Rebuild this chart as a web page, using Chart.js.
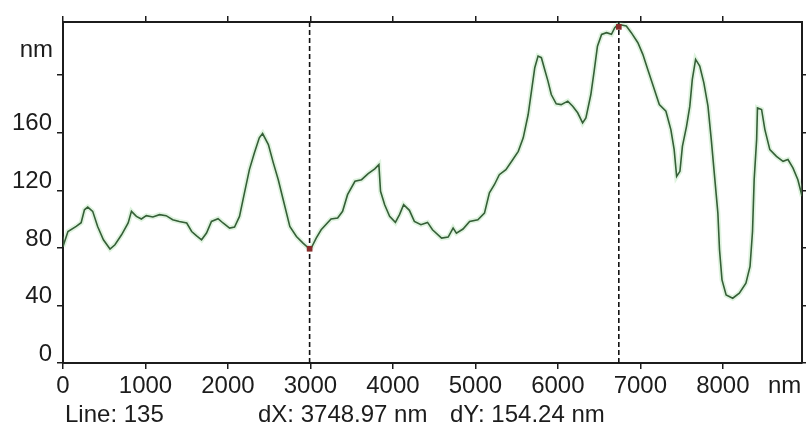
<!DOCTYPE html>
<html>
<head>
<meta charset="utf-8">
<script src="https://cdn.jsdelivr.net/npm/chart.js@4/dist/chart.umd.min.js"></script>
<style>
  html, body { margin: 0; padding: 0; background: #fff; }
  canvas { display: block; }
</style>
</head>
<body>
<canvas id="profile" width="806" height="431"></canvas>
<script>
// height profile along scan line (x in nm, z in nm)
const profileX = [
  0, 60, 160, 220, 260, 300, 360, 420, 490, 570,
  630, 710, 790, 830, 890, 950, 1010, 1090, 1170, 1250,
  1330, 1410, 1500, 1560, 1620, 1680, 1740, 1800, 1880, 1940,
  2020, 2080, 2140, 2200, 2260, 2320, 2380, 2420, 2490, 2550,
  2610, 2670, 2750, 2830, 2910, 2990, 3010, 3070, 3130, 3250,
  3330, 3390, 3450, 3540, 3620, 3700, 3780, 3830, 3850, 3900,
  3960, 4030, 4080, 4130, 4200, 4260, 4340, 4420, 4480, 4590,
  4670, 4730, 4770, 4850, 4930, 5030, 5110, 5170, 5230, 5290,
  5370, 5440, 5520, 5580, 5640, 5680, 5720, 5760, 5800, 5840,
  5880, 5920, 5980, 6040, 6120, 6180, 6240, 6300, 6340, 6400,
  6440, 6480, 6530, 6590, 6650, 6690, 6730, 6830, 6890, 6970,
  7030, 7090, 7170, 7230, 7310, 7370, 7410, 7440, 7480, 7510,
  7560, 7600, 7630, 7670, 7720, 7770, 7820, 7860, 7900, 7940,
  7960, 7990, 8040, 8120, 8200, 8280, 8330, 8360, 8380, 8410,
  8420, 8470, 8510, 8570, 8650, 8730, 8790, 8850, 8910, 8960,
];
const profileY = [
  81, 91.4, 94.9, 97.5, 106.5, 108.4, 105.4, 94.9, 85.6, 79.2,
  82.2, 89.1, 97.3, 105.4, 101.9, 100.1, 102.4, 101.5, 103.1, 102.4,
  99.6, 98.4, 97.3, 91.4, 88.4, 85.6, 90.3, 98.4, 100.3, 97.3,
  93.8, 94.5, 101.9, 118.2, 134.4, 146, 156.5, 159.5, 151.8, 139.1,
  127.4, 113.5, 94.9, 87.9, 83.3, 79.2, 79.9, 86.8, 92.6, 100.1,
  100.8, 105.4, 117, 126.3, 127.4, 131.6, 134.9, 137.9, 119.3, 110,
  101.9, 97.7, 103.1, 110, 106.1, 98.4, 96.1, 97.7, 92.6, 86.8,
  87.5, 93.8, 90.3, 93.1, 98.4, 99.6, 104.2, 118.2, 123.9, 130.9,
  134.4, 140.2, 147.1, 156.5, 172.7, 188.9, 205.2, 213.3, 212.2, 204,
  195.9, 186.6, 180.1, 179.6, 182, 178.5, 173.9, 166.9, 170.4, 186.6,
  202.8, 220.2, 228.4, 229.6, 228.4, 233, 235.4, 234.2, 229.6, 222.6,
  214.5, 204, 190.1, 179.6, 175, 162.2, 148.3, 129.7, 133.2, 150.6,
  164.5, 178.5, 197.1, 211, 206.3, 194.7, 178.5, 155.3, 129.7, 104.2,
  78.7, 57.8, 47.3, 45, 48.5, 55.5, 67.1, 91.4, 127.4, 155.3,
  177.3, 176.2, 162.2, 148.3, 143.6, 140.2, 141.4, 135.6, 127.4, 116,
];

// the two measurement cursors
const cursorX = [2990, 6739];
const cursorY = [79.4, 233.6];

const xTicks = [0, 1000, 2000, 3000, 4000, 5000, 6000, 7000, 8000];
const yTicks = [0, 40, 80, 120, 160, 200];
const yTickLabels = ["0", "40", "80", "120", "160", ""];
const xRange = [0, 8960];
const yRange = [0, 237];

const lineNo = 135;
const dXText = "dX: 3748.97 nm";
const dYText = "dY: 154.24 nm";
const unit = "nm";

const FONT = "'Liberation Sans', Arial, sans-serif";
const INK = "#1c1c1c";

const setTicks = (values) => (scale) => {
  scale.ticks = values.map((v) => ({ value: v }));
};

const axisGrid = { drawOnChartArea: false, drawTicks: true, tickLength: 6, color: INK, lineWidth: 1.5 };
const axisBorder = { display: true, color: INK, width: 2 };

const textPlugin = {
  id: "profileText",
  afterDraw(chart) {
    const { ctx } = chart;
    ctx.save();
    ctx.fillStyle = INK;
    ctx.font = `24px ${FONT}`;
    ctx.textBaseline = "alphabetic";
    ctx.textAlign = "right";
    ctx.fillText(unit, 53, 57);
    ctx.textAlign = "left";
    ctx.fillText(unit, 768, 393);
    ctx.fillText(`Line: ${lineNo}`, 65, 422);
    ctx.fillText(dXText, 258, 422);
    ctx.fillText(dYText, 450, 422);
    ctx.restore();
  },
};

const profilePts = profileX.map((x, i) => ({ x, y: profileY[i] }));

new Chart(document.getElementById("profile").getContext("2d"), {
  type: "line",
  data: {
    datasets: [
      {
        // cursor markers
        type: "scatter",
        data: cursorX.map((x, i) => ({ x, y: cursorY[i] })),
        pointStyle: "rect",
        pointRadius: 4,
        backgroundColor: "#8a2b2b",
        borderColor: "#8a2b2b",
        borderWidth: 0,
        clip: false,
        order: 0,
      },
      {
        data: profilePts,
        borderColor: "#365f38",
        borderWidth: 1.6,
        pointRadius: 0,
        tension: 0,
        order: 1,
      },
      ...cursorX.map((x) => ({
        data: [{ x, y: yRange[0] }, { x, y: yRange[1] }],
        borderColor: "#111",
        borderWidth: 1.6,
        borderDash: [5, 3],
        pointRadius: 0,
        order: 2,
      })),
      {
        // soft halo around the trace
        data: profilePts,
        borderColor: "rgba(150, 215, 150, 0.3)",
        borderWidth: 5,
        pointRadius: 0,
        tension: 0,
        order: 3,
      },
    ],
  },
  options: {
    responsive: false,
    animation: false,
    devicePixelRatio: 1,
    layout: { padding: 0 },
    plugins: {
      legend: { display: false },
      tooltip: { enabled: false },
    },
    scales: {
      x: {
        type: "linear",
        position: "bottom",
        min: xRange[0],
        max: xRange[1],
        afterBuildTicks: setTicks(xTicks),
        afterFit: (s) => { s.height = 68; },
        grid: axisGrid,
        border: axisBorder,
        ticks: {
          color: INK,
          font: { family: FONT, size: 24 },
          padding: 3,
          maxRotation: 0,
          autoSkip: false,
          callback: (v) => String(v),
        },
      },
      x2: {
        type: "linear",
        position: "top",
        min: xRange[0],
        max: xRange[1],
        afterBuildTicks: setTicks(xTicks),
        afterFit: (s) => { s.height = 22; },
        grid: axisGrid,
        border: axisBorder,
        ticks: { display: false },
      },
      y: {
        type: "linear",
        position: "left",
        min: yRange[0],
        max: yRange[1],
        afterBuildTicks: setTicks(yTicks),
        afterFit: (s) => { s.width = 63; },
        grid: axisGrid,
        border: axisBorder,
        ticks: {
          color: INK,
          font: { family: FONT, size: 24 },
          padding: 5,
          labelOffset: -9,
          autoSkip: false,
          callback: (v) => yTickLabels[yTicks.indexOf(v)],
        },
      },
      y2: {
        type: "linear",
        position: "right",
        min: yRange[0],
        max: yRange[1],
        afterBuildTicks: setTicks(yTicks),
        afterFit: (s) => { s.width = 4; },
        grid: axisGrid,
        border: axisBorder,
        ticks: { display: false },
      },
    },
  },
  plugins: [textPlugin],
});
</script>
</body>
</html>
